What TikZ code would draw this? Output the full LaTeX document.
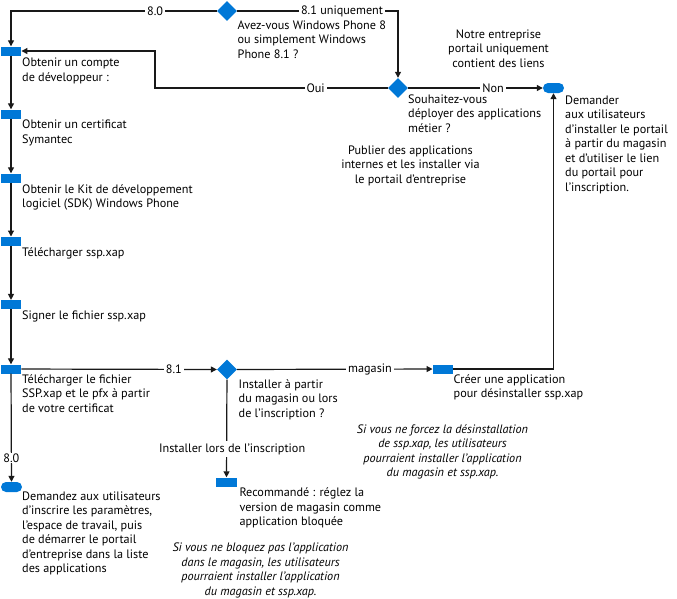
\documentclass[tikz,border=0pt]{standalone}
\usepackage{fontspec}
\setmainfont{PT Sans}
\usetikzlibrary{arrows.meta,shapes.geometric,shapes.misc,positioning}
\definecolor{myblue}{RGB}{0,120,215}
\definecolor{lin}{RGB}{25,25,25}
\begin{document}
\begin{tikzpicture}[x=1pt,y=-1pt,
  every node/.style={font=\fontsize{12.2}{14.5}\selectfont},
  blk/.style={fill=myblue,draw=none,rectangle,minimum width=20.5pt,minimum height=9pt,inner sep=0pt},
  dia/.style={fill=myblue,draw=none,diamond,aspect=1,minimum width=20pt,minimum height=20pt,inner sep=0pt},
  pill/.style={fill=myblue,draw=none,rounded rectangle,minimum width=21pt,minimum height=10pt,inner sep=0pt},
  nlines/.style={yshift={-(#1-1)*14.5pt}},
  txt/.style={anchor=base west,align=left,inner sep=0pt},
  ctxt/.style={anchor=base,align=center,inner sep=0pt},
  itxt/.style={anchor=base,align=center,inner sep=0pt,font=\fontsize{12.2}{14.5}\selectfont\itshape},
  lbl/.style={fill=white,inner sep=2pt},
  conn/.style={draw=lin,line width=1.2pt},
  arr/.style={conn,-{Triangle[length=6pt,width=6pt]}}
]
\useasboundingbox (0,0) rectangle (677,598);

% left column
\node[blk] (r1) at (11,51) {};
\node[blk] (r2) at (11,114) {};
\node[blk] (r3) at (11,178) {};
\node[blk] (r4) at (11,241.2) {};
\node[blk] (r5) at (11,304.6) {};
\node[blk] (r6) at (11,369) {};
\node[pill] (p1) at (11.5,487) {};

\node[dia] (d1) at (227,11) {};
\node[dia] (d2) at (398,88) {};
\node[pill] (p2) at (553.5,88) {};
\node[dia] (d3) at (227,369.5) {};
\node[blk] (r7) at (226.5,482) {};
\node[blk] (r8) at (443,369) {};
\coordinate (c1) at (155,51);

% connectors
\draw[arr] (d1) -| (r1) node[lbl,pos=0.15] {8.0};
\draw[arr] (d1) -| (d2) node[lbl,pos=0.326] {8.1 uniquement};
\draw[arr] (d2) -| (c1) node[lbl,pos=0.155] {Oui} -- (r1);
\draw[arr] (d2) -- (p2) node[lbl,pos=0.63] {Non};
\draw[arr] (r1) -- (r2);
\draw[arr] (r2) -- (r3);
\draw[arr] (r3) -- (r4);
\draw[arr] (r4) -- (r5);
\draw[arr] (r5) -- (r6);
\draw[arr] (r6) -- (p1) node[lbl,pos=0.78,inner sep=1pt] {8.0};
\draw[arr] (r6) -- (d3) node[lbl,pos=0.78] {8.1};
\draw[arr] (d3) -- (r8) node[lbl,pos=0.68] {magasin};
\draw[arr] (d3) -- (r7) node[lbl,pos=0.71,xshift=5.5pt] {Installer lors de l’inscription};
\draw[arr] (r8) -| (p2);

% texts
\node[txt,nlines=2] (t1) at (22,66.5) {Obtenir un compte\\de développeur :};
\node[txt,nlines=2] (t2) at (22,128.5) {Obtenir un certificat\\Symantec};
\node[txt,nlines=2] (t3) at (22,193.3) {Obtenir le Kit de développement\\logiciel (SDK) Windows Phone};
\node[txt] (t4) at (22,256) {Télécharger ssp.xap};
\node[txt] (t5) at (22,319) {Signer le fichier ssp.xap};
\node[txt,nlines=3] (t6) at (22,383.3) {Télécharger le fichier\\SSP.xap et le pfx à partir\\de votre certificat};
\node[txt,nlines=6] (t7) at (22,500) {Demandez aux utilisateurs\\d’inscrire les paramètres,\\l’espace de travail, puis\\de démarrer le portail\\d’entreprise dans la liste\\des applications};
\node[txt,nlines=3] (t8) at (237.5,29.3) {Avez-vous Windows Phone 8\\ou simplement Windows\\Phone 8.1 ?};
\node[txt,nlines=3] (t9) at (408,103.3) {Souhaitez-vous\\déployer des applications\\métier ?};
\node[ctxt,nlines=3] (t10) at (410.5,154) {Publier des applications\\internes et les installer via\\le portail d’entreprise};
\node[ctxt,nlines=3] (t11) at (498.5,38.3) {Notre entreprise\\portail uniquement\\contient des liens};
\node[txt,nlines=7] (t12) at (565,104) {Demander\\aux utilisateurs\\d’installer le portail\\à partir du magasin\\et d’utiliser le lien\\du portail pour\\l’inscription.};
\node[txt,nlines=3] (t13) at (238.5,388.3) {Installer à partir\\du magasin ou lors\\de l’inscription ?};
\node[txt,nlines=2] (t14) at (453.5,383.3) {Créer une application\\pour désinstaller ssp.xap};
\node[itxt,nlines=4] (t15) at (442.5,433.3) {Si vous ne forcez la désinstallation\\de ssp.xap, les utilisateurs\\pourraient installer l’application\\du magasin et ssp.xap.};
\node[txt,nlines=3] (t16) at (239.3,496.7) {Recommandé : réglez la\\version de magasin comme\\application bloquée};
\node[itxt,nlines=4] (t17) at (260.5,551.7) {Si vous ne bloquez pas l’application\\dans le magasin, les utilisateurs\\pourraient installer l’application\\du magasin et ssp.xap.};
\end{tikzpicture}
\end{document}
